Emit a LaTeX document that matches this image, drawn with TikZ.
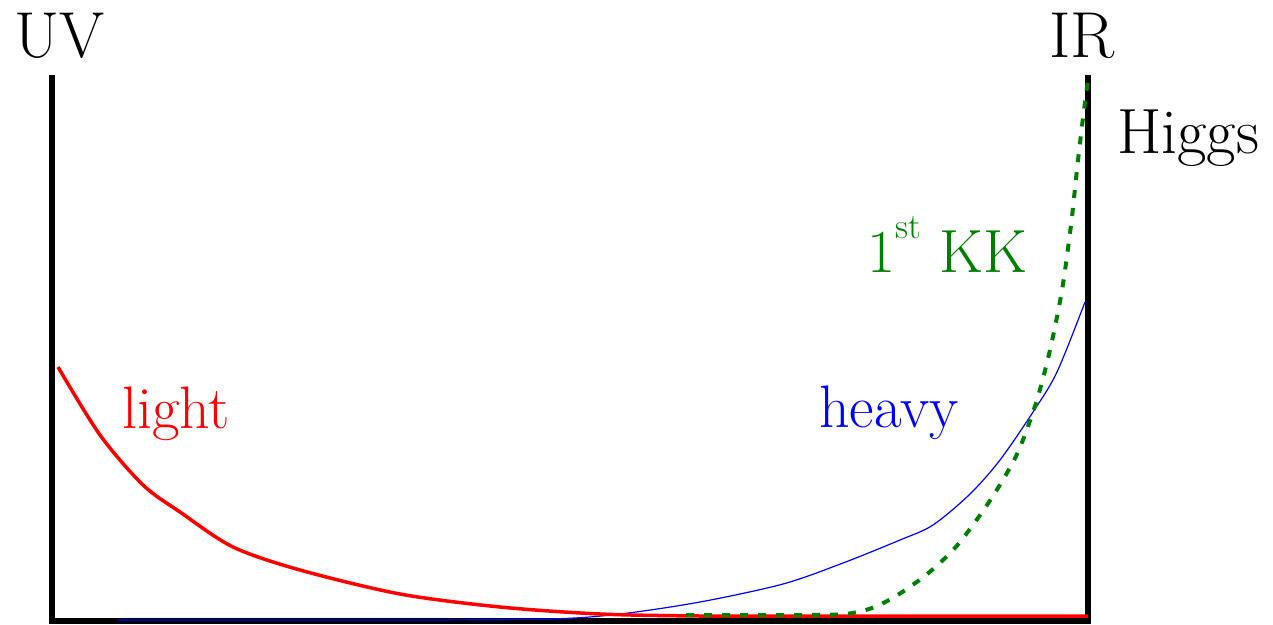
\documentclass[tikz,border=0pt]{standalone}
\definecolor{kkgreen}{RGB}{0,128,0}
\begin{document}
\begin{tikzpicture}[x=1pt,y=-1pt,
  lbl/.style={inner sep=0pt,anchor=base west,font=\fontsize{60}{70}\selectfont},
  biglbl/.style={lbl,font=\fontsize{65}{75}\selectfont},
  axis/.style={line width=6.5pt,black},
  lightc/.style={line width=3.5pt,red},
  heavyc/.style={line width=1.2pt,blue},
  kkc/.style={line width=4pt,kkgreen,dash pattern=on 8pt off 10pt}]
\useasboundingbox (0,0) rectangle (1273,624);
% axes
\coordinate (tl) at (52,75);
\coordinate (bl) at (52,621);
\coordinate (br) at (1088,621);
\coordinate (tr) at (1088,75);
\draw[axis] (tl) -- (bl) -- (br) -- (tr);
% heavy (blue)
\draw[heavyc] plot[smooth,tension=0.5] coordinates {(117,620) (400,620) (550,619) (620,614) (700,602) (783,584) (843,563) (900,540) (933,525) (970,494) (1000,460) (1033,412) (1057,372) (1085,302)};
% light (red)
\draw[lightc] plot[smooth,tension=0.5] coordinates {(58,367) (100,435) (143,485) (180,512) (233,547) (300,570) (400,594) (500,607) (600,614) (700,616) (800,616) (1088,616)};
% 1st KK (green dashed)
\draw[kkc] plot[smooth,tension=0.5] coordinates {(686,615) (800,615) (845,614) (872,608) (896,596) (926,575) (954,549) (978,518) (998,488) (1018,452) (1036,403) (1050,350) (1062,290) (1071,225) (1078,160) (1084,110) (1088,80)};
% labels
\node[biglbl] (uv) at (14,57) {UV};
\node[biglbl] (ir) at (1049,57) {IR};
\node[lbl,font=\fontsize{64}{74}\selectfont] (higgs) at (1117,153) {Higgs};
\node[lbl,text=kkgreen,font=\fontsize{61}{70}\selectfont] (kk) at (867,272) {1\raisebox{0.55em}{\fontsize{36}{40}\selectfont st} KK};
\node[lbl,text=red] (light) at (122,428) {light};
\node[lbl,text=blue] (heavy) at (819,427) {heavy};
\end{tikzpicture}
\end{document}
